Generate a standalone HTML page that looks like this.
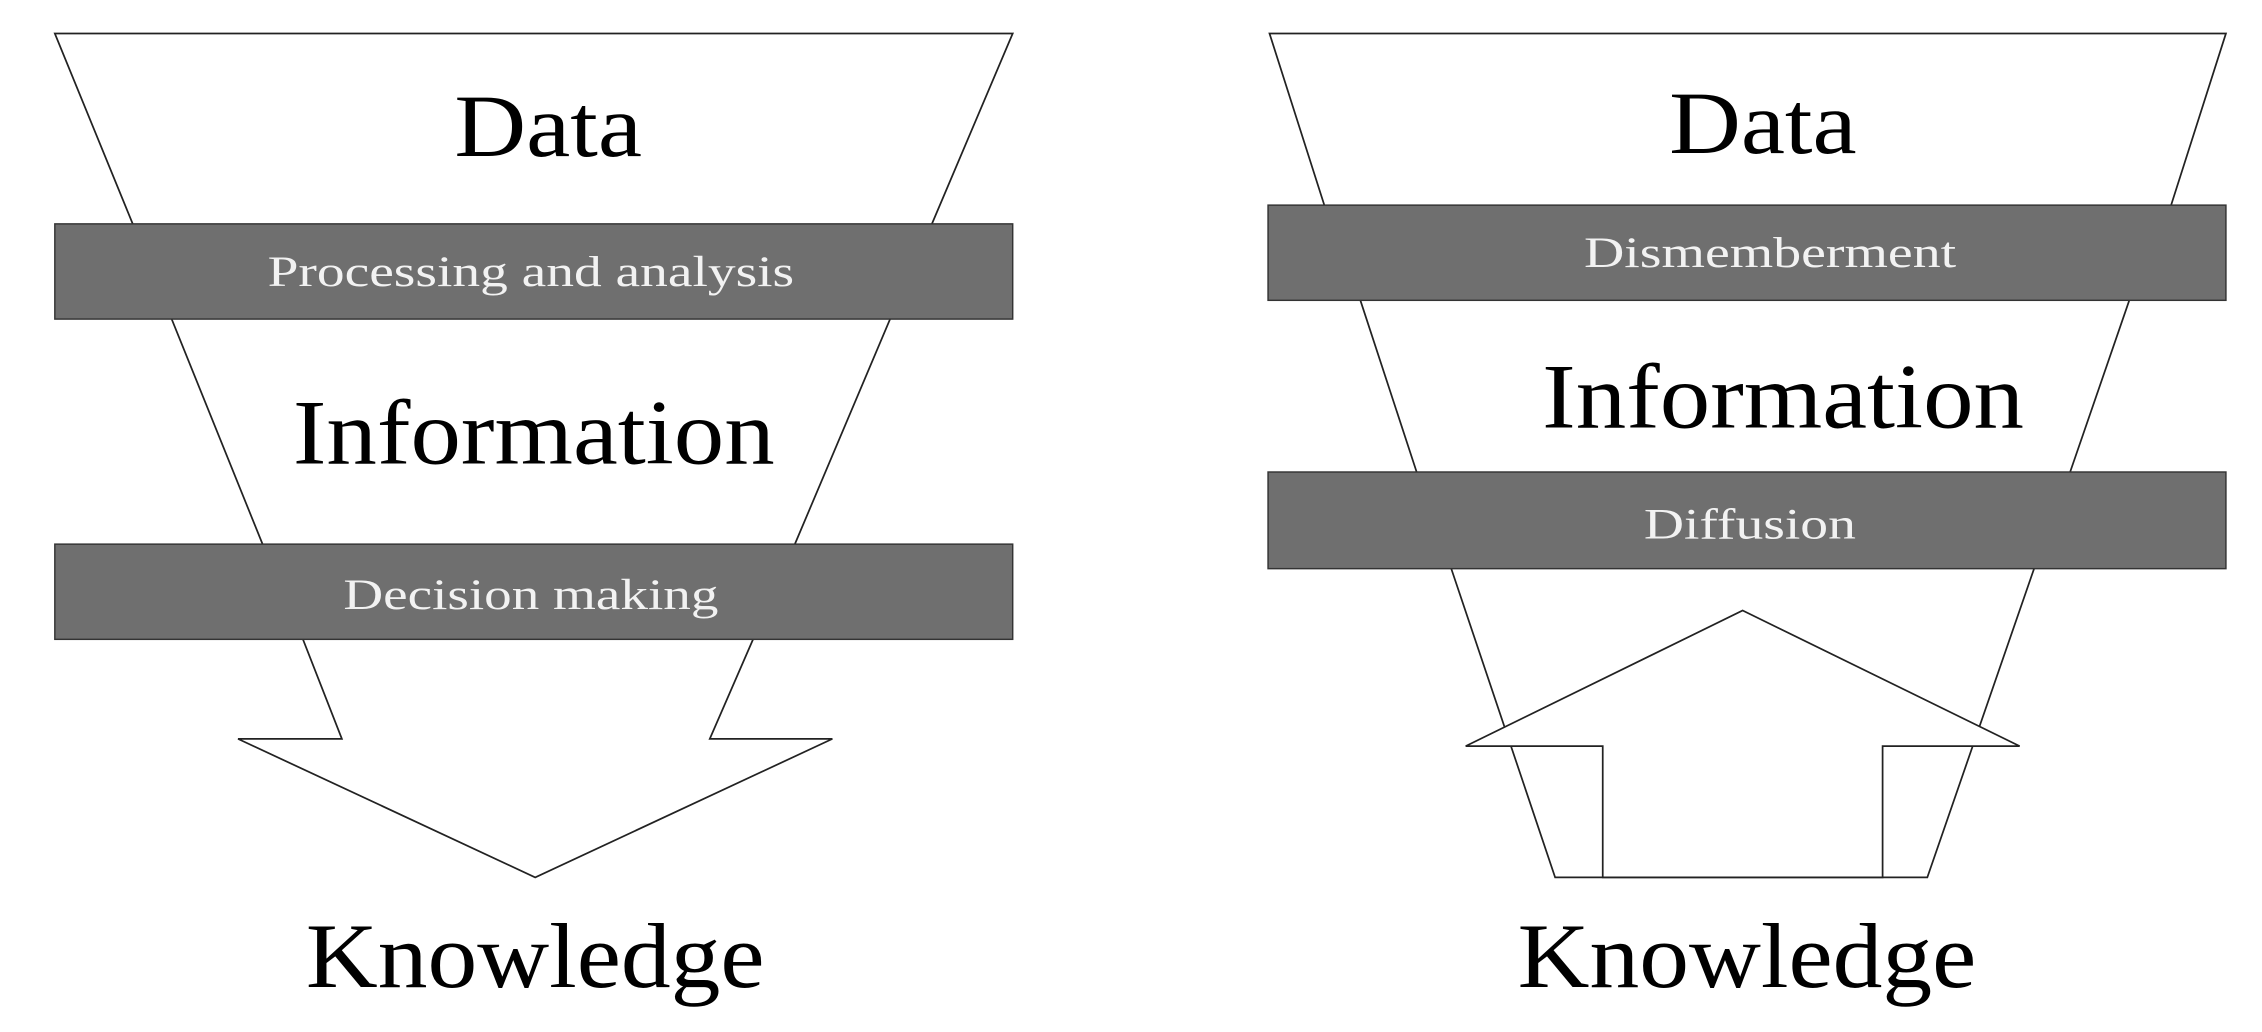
<!DOCTYPE html>
<html><head><meta charset="utf-8"><style>
html,body{margin:0;padding:0;background:#fff}
svg{display:block}
text{font-family:"Liberation Serif",serif}
</style></head><body>
<svg width="2262" height="1032" viewBox="0 0 1568 715" xmlns="http://www.w3.org/2000/svg">
<g fill="none" stroke="#222" stroke-width="1.2">
<!-- left funnel -->
<polyline points="92,155 38,23 702,23 646,155"/>
<line x1="119" y1="221" x2="182" y2="377"/>
<line x1="617" y1="221" x2="551" y2="377"/>
<polyline points="210,443 237,512 165,512 371,608 577,512 492,512 522,443"/>
<!-- right funnel -->
<polyline points="918,142 880,23 1543,23 1505,142"/>
<line x1="943" y1="208" x2="982" y2="327"/>
<line x1="1476" y1="208" x2="1435" y2="327"/>
<polyline points="1006,394 1078,608 1336,608 1410,394"/>
</g>
<polygon points="1208,423 1400,517 1305,517 1305,608 1111,608 1111,517 1016,517" fill="#fff" stroke="#222" stroke-width="1.2"/>
<g fill="#6f6f6f" stroke="#333" stroke-width="1">
<rect x="38" y="155" width="664" height="66"/>
<rect x="38" y="377" width="664" height="66"/>
<rect x="879" y="142" width="664" height="66"/>
<rect x="879" y="327" width="664" height="67"/>
</g>
<g fill="#000" text-anchor="middle">
<text x="380" y="108" font-size="62" textLength="130" lengthAdjust="spacingAndGlyphs">Data</text>
<text x="370" y="321" font-size="64" textLength="334" lengthAdjust="spacingAndGlyphs">Information</text>
<text x="371" y="684" font-size="64" textLength="318" lengthAdjust="spacingAndGlyphs">Knowledge</text>
<text x="1222" y="106" font-size="62" textLength="130" lengthAdjust="spacingAndGlyphs">Data</text>
<text x="1236" y="296" font-size="64" textLength="334" lengthAdjust="spacingAndGlyphs">Information</text>
<text x="1211" y="684" font-size="64" textLength="318" lengthAdjust="spacingAndGlyphs">Knowledge</text>
</g>
<g fill="#f2f2f2" text-anchor="middle">
<text x="368" y="198" font-size="30" textLength="365" lengthAdjust="spacingAndGlyphs">Processing and analysis</text>
<text x="368" y="422" font-size="30" textLength="260" lengthAdjust="spacingAndGlyphs">Decision making</text>
<text x="1227" y="185" font-size="30" textLength="258" lengthAdjust="spacingAndGlyphs">Dismemberment</text>
<text x="1213" y="373" font-size="30" textLength="147" lengthAdjust="spacingAndGlyphs">Diffusion</text>
</g>
</svg>
</body></html>
